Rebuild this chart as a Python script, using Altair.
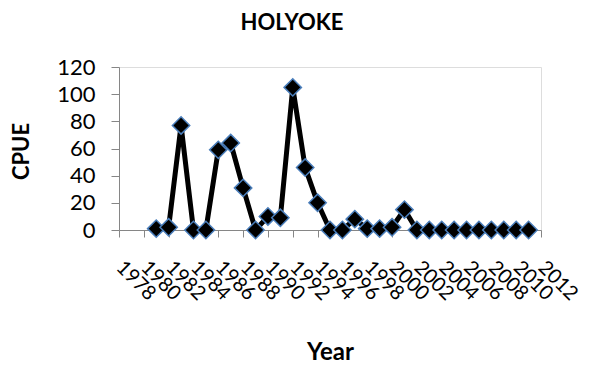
import altair as alt
import pandas as pd

years = list(range(1981, 2012))
cpue = [1, 2, 77, 0, 0, 59, 64, 31, 0, 10, 9, 105, 46, 20, 0, 0, 8, 1, 1, 2, 15,
        0, 0, 0, 0, 0, 0, 0, 0, 0, 0]
x_ticks = list(range(1978, 2013, 2))
y_ticks = [0, 20, 40, 60, 80, 100, 120]

df = pd.DataFrame({"Year": years, "CPUE": cpue})

FONT = "Lato"
AX = "#868686"
W = 422

x = alt.X("Year:Q", scale=alt.Scale(domain=[1978, 2012], nice=False, zero=False),
          axis=alt.Axis(values=x_ticks, format="d", labelAngle=45, labelAlign="left",
                        labelBaseline="middle", labelPadding=27, labelFontSize=20,
                        labelFont=FONT, labelColor="black", domainColor=AX, tickColor=AX,
                        tickSize=7, grid=False, labelOverlap=False, labelFlush=False,
                        title="Year", titleFont=FONT, titleFontSize=24, titleFontWeight="bold",
                        titleX=W / 2, titleY=122, titleBaseline="middle", titleAlign="center",
                        titleColor="black"))
y = alt.Y("CPUE:Q", scale=alt.Scale(domain=[0, 120], nice=False),
          axis=alt.Axis(values=y_ticks, labelFontSize=22, labelFont=FONT, labelColor="black",
                        labelPadding=16, domainColor=AX, tickColor=AX, tickSize=8, grid=False,
                        title="CPUE", titleFont=FONT, titleFontSize=22, titleFontWeight="bold",
                        titleX=-98, titleY=84, titleAngle=-90, titleBaseline="middle",
                        titleAlign="center", titleColor="black"))

line = alt.Chart(df).mark_line(color="black", strokeWidth=5).encode(x=x, y=y)
pts = alt.Chart(df).mark_point(shape="diamond", filled=True, fill="black", stroke="#4a7ebb",
                               strokeWidth=1.5, size=300, opacity=1).encode(x=x, y=y)

chart = (line + pts).properties(
    width=W, height=163,
    padding={"left": 111, "top": 59, "right": 43, "bottom": 133},
    autosize=alt.AutoSizeParams(type="none"),
    title=alt.TitleParams("HOLYOKE", font=FONT, fontSize=22, fontWeight="bold",
                          anchor="middle", dx=-38, offset=21, color="black"),
).configure_view(stroke=None).configure(background="white")

chart.save("out.html", embed_options={"renderer": "svg", "actions": False})
